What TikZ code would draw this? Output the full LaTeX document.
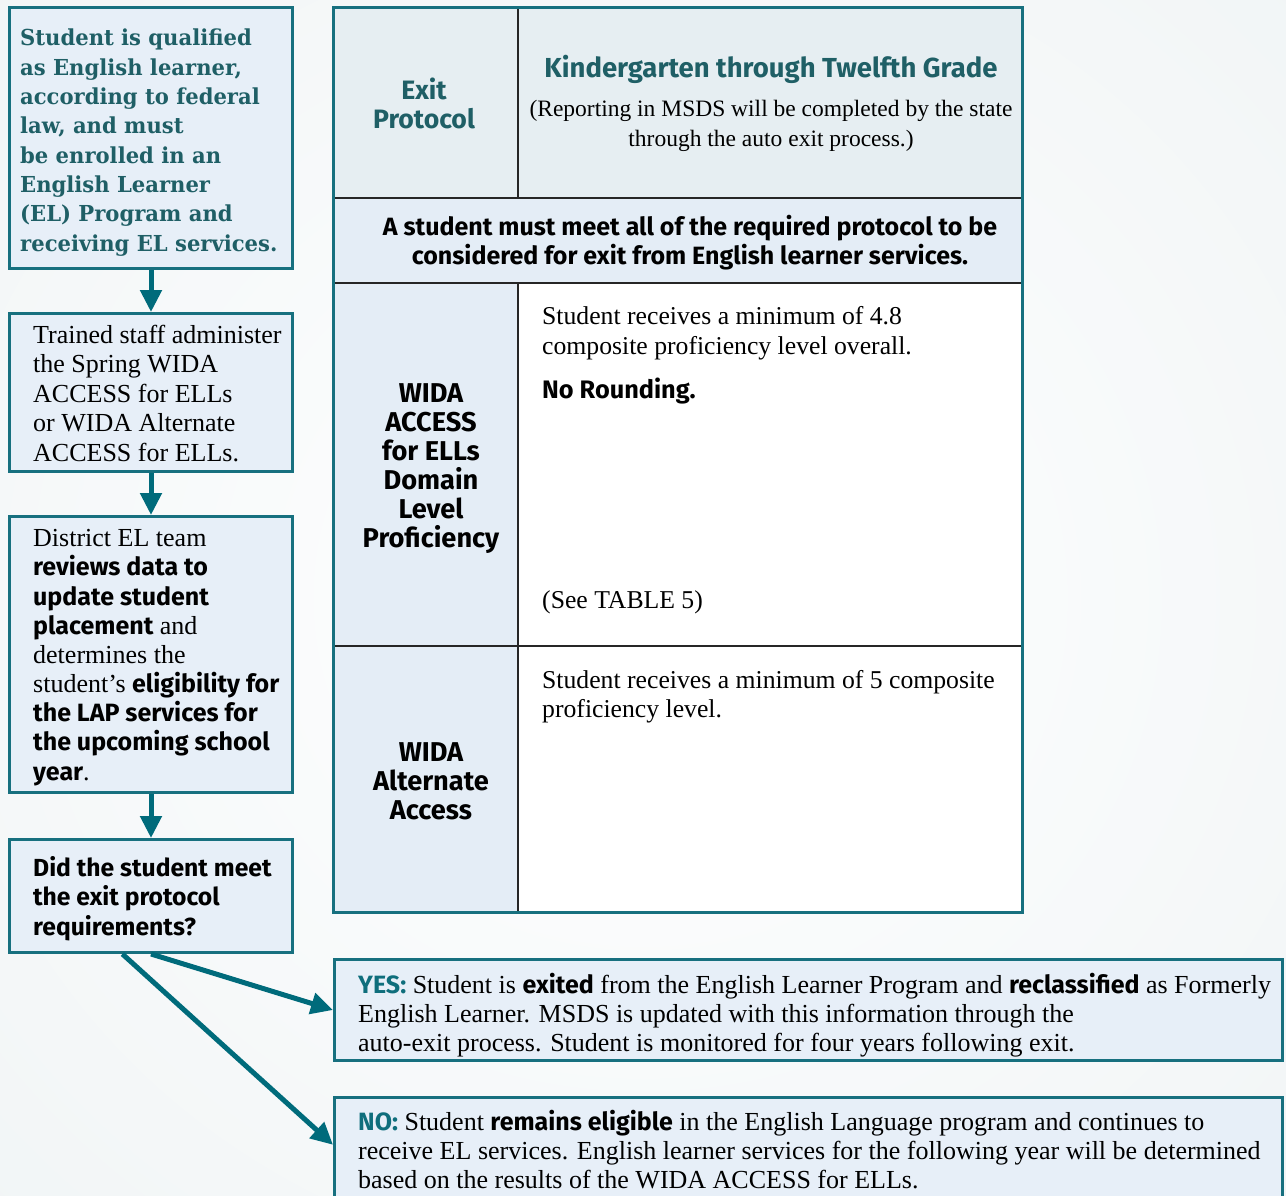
\documentclass[tikz,border=0pt]{standalone}
\usepackage{fontspec}
\setmainfont{Liberation Serif}
\newfontfamily\fsans{Fira Sans}
\newfontfamily\slabfont{DejaVu Serif}[FakeStretch=0.96]
\usetikzlibrary{arrows.meta,calc}
\definecolor{bordc}{HTML}{17707F}
\definecolor{arrc}{HTML}{006B7B}
\definecolor{slabc}{HTML}{1F5F66}
\definecolor{boxf}{HTML}{E7EFF8}
\definecolor{headf}{HTML}{E6EEF2}
\definecolor{leftf}{HTML}{E4EDF6}
\definecolor{keyc}{HTML}{0F6E7C}
\definecolor{bgc}{HTML}{F1F5F6}
\newcommand\sbf[1]{{\fsans\bfseries\fontsize{25}{29.2}\selectfont #1}}
\begin{document}
\begin{tikzpicture}[x=1pt,y=-1pt,
  flowbox/.style={draw=bordc,line width=3pt,fill=boxf,inner sep=0pt},
  arr/.style={draw=arrc,line width=5pt,-{Triangle[length=22pt,width=21pt]}},
  txt/.style={inner sep=0pt,align=left,anchor=base west},
  ctxt/.style={inner sep=0pt,align=center,anchor=base},
  cellline/.style={draw=black!85,line width=2pt}]
\useasboundingbox (0,0) rectangle (1286,1195);
\shade[inner color=white,outer color=bgc,shading=radial] (-300,-300) rectangle (1586,1495);
% ---------- left flow boxes ----------
\node[flowbox,minimum width=283pt,minimum height=261pt] (b1) at (151,138) {};
\node[flowbox,minimum width=283pt,minimum height=158pt] (b2) at (151,392.5) {};
\node[flowbox,minimum width=283pt,minimum height=276pt] (b3) at (151,654.5) {};
\node[flowbox,minimum width=283pt,minimum height=113pt] (b4) at (151,896) {};
\node[txt,font=\slabfont\bfseries\fontsize{22}{29.3}\selectfont,text=slabc] (t1) at (20,251)
 {Student is qualified\\as English learner,\\according to federal\\law, and must\\be enrolled in an\\English Learner\\(EL) Program and\\receiving EL services.};
\node[txt,font=\fontsize{26}{29.5}\selectfont] (t2) at (33,461)
 {Trained staff administer\\the Spring WIDA\\ACCESS for ELLs\\or WIDA Alternate\\ACCESS for ELLs.};
\node[txt,font=\fontsize{26}{29.15}\selectfont] (t3) at (33,780)
 {District EL team\\\sbf{reviews data to}\\\sbf{update student}\\\sbf{placement} and\\determines the\\student’s \sbf{eligibility for}\\\sbf{the LAP services for}\\\sbf{the upcoming school}\\\sbf{year}.};
\node[txt,font=\fsans\bfseries\fontsize{24.7}{29.2}\selectfont] (t4) at (33,935)
 {Did the student meet\\the exit protocol\\requirements?};
% ---------- result boxes ----------
\node[flowbox,minimum width=948pt,minimum height=101pt] (yes) at (808.5,1010) {};
\node[flowbox,minimum width=948pt,minimum height=116pt] (no) at (808.5,1155.5) {};
\node[txt,font=\fontsize{26}{29}\selectfont] (ty) at (358,1051)
 {\textcolor{keyc}{\sbf{YES:}} Student is \sbf{exited} from the English Learner Program and \sbf{reclassified} as Formerly\\English Learner. MSDS is updated with this information through the\\auto-exit process. Student is monitored for four years following exit.};
\node[txt,font=\fontsize{26}{29}\selectfont] (tn) at (358,1188)
 {\textcolor{keyc}{\sbf{NO:}} Student \sbf{remains eligible} in the English Language program and continues to\\receive EL services. English learner services for the following year will be determined\\based on the results of the WIDA ACCESS for ELLs.};
% ---------- arrows ----------
\draw[arr] (b1.south) -- (b2.north);
\draw[arr] (b2.south) -- (b3.north);
\draw[arr] (b3.south) -- (b4.north);
\draw[arr] (b4.south) -- (yes.west);
\draw[arr] ($(b4.south west)!0.4!(b4.south east)$) -- ($(no.north west)!0.41!(no.south west)$);
% ---------- table ----------
\coordinate (tl) at (333.5,7.5);
\coordinate (br) at (1022.5,912.5);
\fill[headf] (333.5,7.5) rectangle (1022.5,198);
\fill[leftf] (333.5,198) rectangle (1022.5,283);
\fill[leftf] (333.5,283) rectangle (518,912.5);
\fill[white] (518,283) rectangle (1022.5,912.5);
\draw[cellline] (518,7.5) -- (518,198);
\draw[cellline] (518,283) -- (518,912.5);
\draw[cellline] (333.5,198) -- (1022.5,198);
\draw[cellline] (333.5,283) -- (1022.5,283);
\draw[cellline] (333.5,646) -- (1022.5,646);
\draw[draw=bordc,line width=3pt] (tl) rectangle (br);
\node[ctxt,text=slabc,font=\fsans\bfseries\fontsize{26.6}{29}\selectfont] (hexit) at (424,128) {Exit\\Protocol};
\node[ctxt,text=slabc,font=\fsans\bfseries\fontsize{27.5}{29}\selectfont] (hkg) at (771,77) {Kindergarten through Twelfth Grade};
\node[ctxt,font=\fontsize{23.5}{29.5}\selectfont] (hrep) at (771,146) {(Reporting in MSDS will be completed by the state\\through the auto exit process.)};
\node[ctxt,font=\fsans\bfseries\fontsize{25}{29}\selectfont] (hmust) at (690,264) {A student must meet all of the required protocol to be\\considered for exit from English learner services.};
\node[ctxt,font=\fsans\bfseries\fontsize{27.2}{29}\selectfont] (r1l) at (431,547) {WIDA\\ACCESS\\for ELLs\\Domain\\Level\\Proficiency};
\node[txt,font=\fontsize{25.7}{29.5}\selectfont] (r1a) at (542,354) {Student receives a minimum of 4.8\\composite proficiency level overall.};
\node[txt,font=\fsans\bfseries\fontsize{25.3}{29}\selectfont] (r1b) at (542,398) {No Rounding.};
\node[txt,font=\fontsize{25.7}{29.5}\selectfont] (r1c) at (542,608) {(See TABLE 5)};
\node[ctxt,font=\fsans\bfseries\fontsize{27.2}{29}\selectfont] (r2l) at (431,819) {WIDA\\Alternate\\Access};
\node[txt,font=\fontsize{25.7}{29}\selectfont] (r2a) at (542,717) {Student receives a minimum of 5 composite\\proficiency level.};
\end{tikzpicture}
\end{document}
